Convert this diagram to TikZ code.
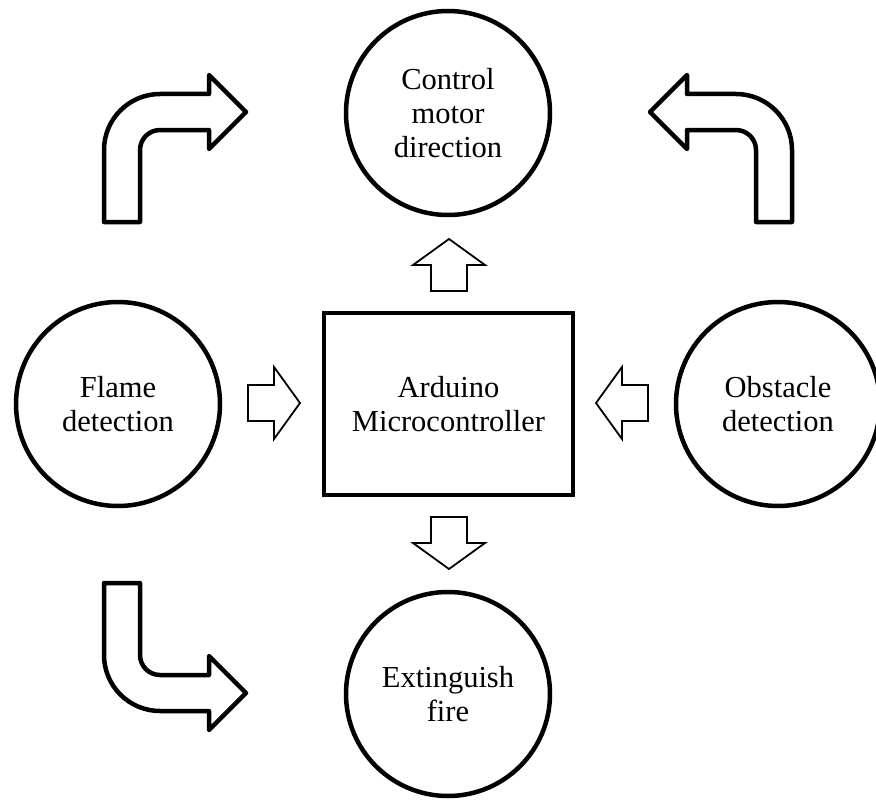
\documentclass[tikz,border=0pt]{standalone}
\usepackage{fontspec}
\setmainfont{Liberation Serif}
\usetikzlibrary{positioning}

\tikzset{
    bentarrow/.pic={
        \draw[bigarrow] (-18,110) -- (-18,38) arc[start angle=180, end angle=270, radius=56]
            -- (87,-18) -- (87,-37) -- (124,0) -- (87,37) -- (87,18)
            -- (38,18) arc[start angle=270, end angle=180, radius=20] -- (18,110) -- cycle;
    },
    blockarrow/.pic={
        \draw[smallarrow] (0,-18) -- (26,-18) -- (26,-36) -- (52,0) -- (26,36) -- (26,18) -- (0,18) -- cycle;
    }
}

\begin{document}
\begin{tikzpicture}[
    x=1pt, y=-1pt,
    bubble/.style={circle, draw, line width=4.5pt, minimum size=204pt, inner sep=0pt, align=center, font=\fontsize{30.5}{34}\selectfont},
    mcu/.style={rectangle, draw, line width=4.5pt, minimum width=249pt, minimum height=182pt, align=center, font=\fontsize{30.5}{34}\selectfont},
    bigarrow/.style={line width=4.5pt, line join=round, fill=white},
    smallarrow/.style={line width=1.8pt, line join=miter, fill=white}
]
\useasboundingbox (0,0) rectangle (876,800);

% Central controller
\node[mcu] (arduino) at (448.5,404) {Arduino\\Microcontroller};

% Surrounding blocks
\node[bubble] (motor) at (448,113) {Control\\motor\\direction};
\node[bubble] (flame) at (118,404) {Flame\\detection};
\node[bubble] (obstacle) at (778,404) {Obstacle\\detection};
\node[bubble] (fire) at (448,694) {Extinguish\\fire};

% Block arrows around the controller
\pic at (248,403) {blockarrow};
\pic[rotate=180] at (648,403) {blockarrow};
\pic[rotate=90] at (449,291) {blockarrow};
\pic[rotate=-90] at (449,517) {blockarrow};

% Bent arrows
\pic at (122,112) {bentarrow};
\pic[xscale=-1] at (774,112) {bentarrow};
\pic[yscale=-1] at (122,693) {bentarrow};

\end{tikzpicture}
\end{document}
